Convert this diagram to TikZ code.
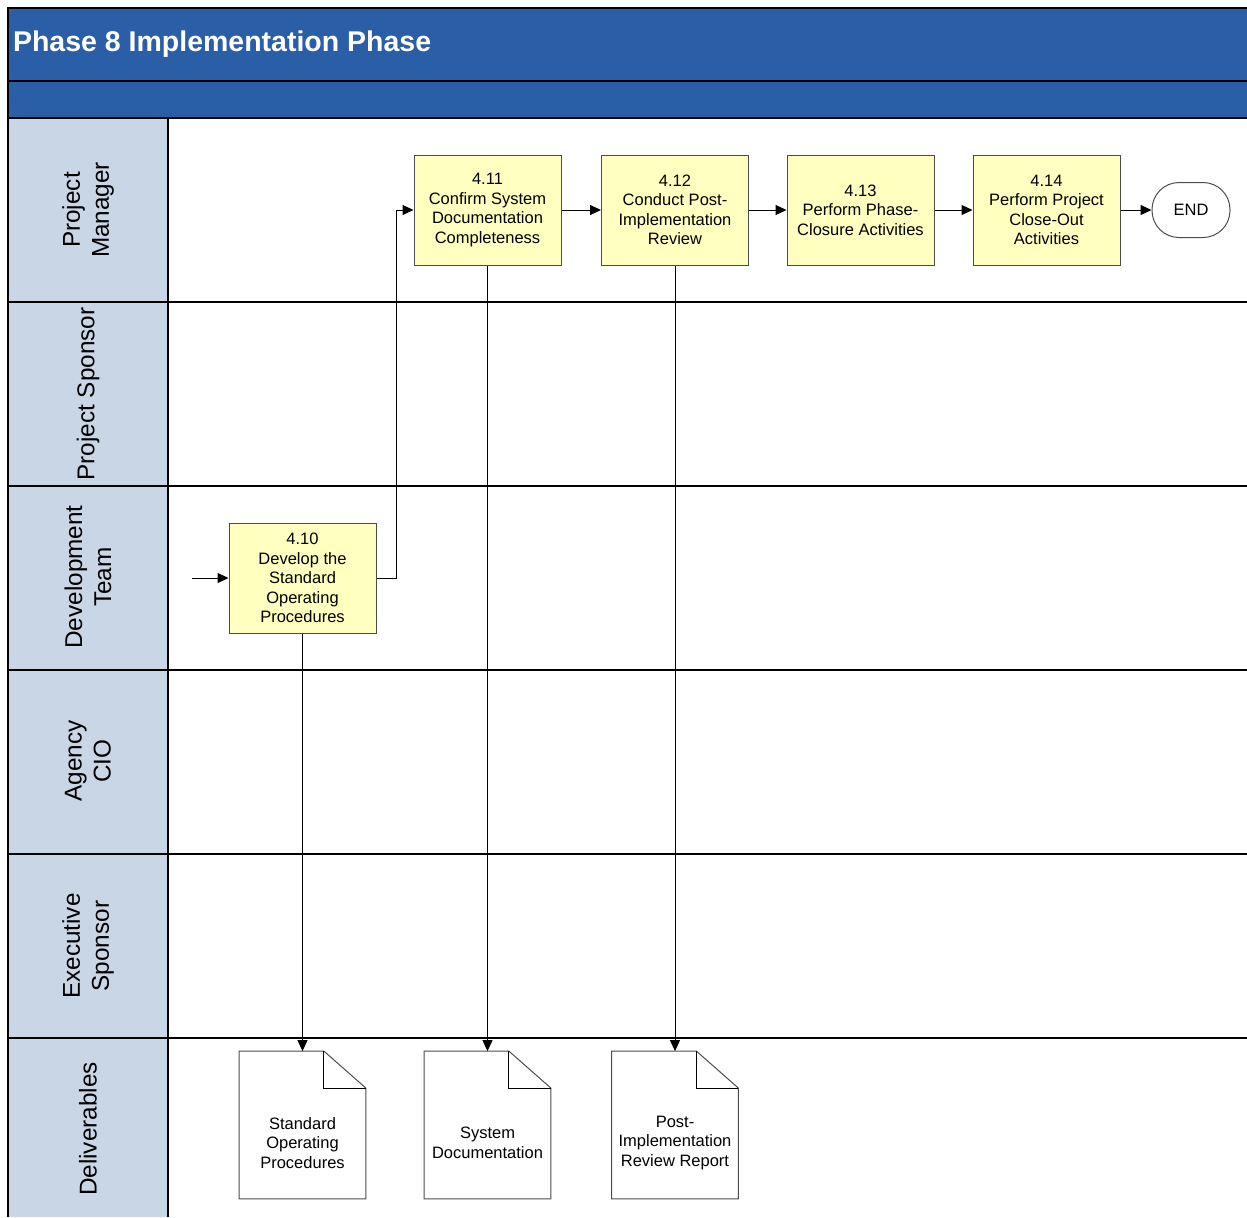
\documentclass[tikz,border=0pt]{standalone}
\usepackage{fontspec}
\setmainfont{Liberation Sans}
\usetikzlibrary{arrows.meta,positioning}
\definecolor{phaseblue}{RGB}{42,94,166}
\definecolor{lanegrey}{RGB}{201,214,230}
\definecolor{taskyellow}{RGB}{255,255,192}
\tikzset{
  boxfont/.style={font=\fontsize{8.25}{9.75}\selectfont},
  task/.style={draw=black!70,fill=taskyellow,line width=0.5pt,minimum width=73.5pt,minimum height=55pt,align=center,inner sep=1pt,boxfont},
  terminal/.style={draw=black!70,line width=0.5pt,rounded corners=13.5pt,minimum width=39pt,minimum height=27.5pt,boxfont},
  deliv/.style={minimum width=63pt,minimum height=73.5pt,inner sep=0pt},
  delivtext/.style={align=center,boxfont,yshift=-9pt},
  lanelabel/.style={rotate=90,align=center,font=\fontsize{12.15}{14.5}\selectfont},
  flow/.style={-{Triangle[length=5.5pt,width=5pt]},line width=0.5pt}
}

\begin{document}
\begin{tikzpicture}[x=0.5pt,y=-0.5pt]
            \useasboundingbox (0,0) rectangle (1247,1217);
            % header and lanes
            \fill [phaseblue] (8,8) rectangle (1247,118);
            \fill [lanegrey] (8,118) rectangle (168,1217);
            \draw [line width=0.8pt] (1247,8) -- (8,8) -- (8,1217);
            \draw [line width=0.6pt] (8,81) -- (1247,81);
            \draw [line width=0.8pt] (8,118) -- (1247,118);
            \foreach \y in {302,486,670,854,1038}
                \draw [line width=0.6pt] (8,\y) -- (1247,\y);
            \draw [line width=0.6pt] (168,118) -- (168,1217);
            \node [anchor=west,text=white,font=\fontsize{14.25}{17}\selectfont\bfseries] (title) at (6,44) {Phase 8 Implementation Phase};
            \node [lanelabel] (pmlane) at (88,210) {Project\\Manager};
            \node [lanelabel] (pslane) at (88,394) {Project Sponsor};
            \node [lanelabel] (dtlane) at (88,577) {Development\\Team};
            \node [lanelabel] (ciolane) at (88,761) {Agency\\CIO};
            \node [lanelabel] (eslane) at (88,946) {Executive\\Sponsor};
            \node [lanelabel] (dellane) at (88,1129) {Deliverables};
            % tasks
            \node [task] (dev410) at (302.5,578) {4.10\\Develop the\\Standard\\Operating\\Procedures};
            \node [task] (pm411) at (487.5,210) {4.11\\Confirm System\\Documentation\\Completeness};
            \node [task] (pm412) at (675,210) {4.12\\Conduct Post-\\Implementation\\Review};
            \node [task] (pm413) at (860.5,210) {4.13\\Perform Phase-\\Closure Activities};
            \node [task] (pm414) at (1046.5,210) {4.14\\Perform Project\\Close-Out\\Activities};
            \node [terminal] (end) at (1191,210) {END};
            % deliverables
            \node [deliv,label={[delivtext]center:Standard\\Operating\\Procedures}] (sopdoc) at (302.5,1125) {};
            \node [deliv,label={[delivtext]center:System\\Documentation}] (sysdoc) at (487.5,1125) {};
            \node [deliv,label={[delivtext]center:Post-\\Implementation\\Review Report}] (pirdoc) at (675,1125) {};
            \foreach \d in {sopdoc,sysdoc,pirdoc}{
                \draw [black!70,line width=0.5pt] (\d.north west) -- ([xshift=-21pt]\d.north east) -- ([yshift=-18.5pt]\d.north east) -- (\d.south east) -- (\d.south west) -- cycle;
                \draw [black,line width=0.5pt] ([xshift=-21pt]\d.north east) |- ([yshift=-18.5pt]\d.north east);
            }
            % flows
            \coordinate (start) at (192,578);
            \draw [flow] (start) -- (dev410.west);
            \draw [flow] (dev410.east) -- ++(10pt,0) |- (pm411.west);
            \draw [flow] (pm411) -- (pm412);
            \draw [flow] (pm412) -- (pm413);
            \draw [flow] (pm413) -- (pm414);
            \draw [flow] (pm414) -- (end);
            \draw [flow] (dev410.south) -- (sopdoc.north);
            \draw [flow] (pm411.south) -- (sysdoc.north);
            \draw [flow] (pm412.south) -- (pirdoc.north);
        \end{tikzpicture}
\end{document}
